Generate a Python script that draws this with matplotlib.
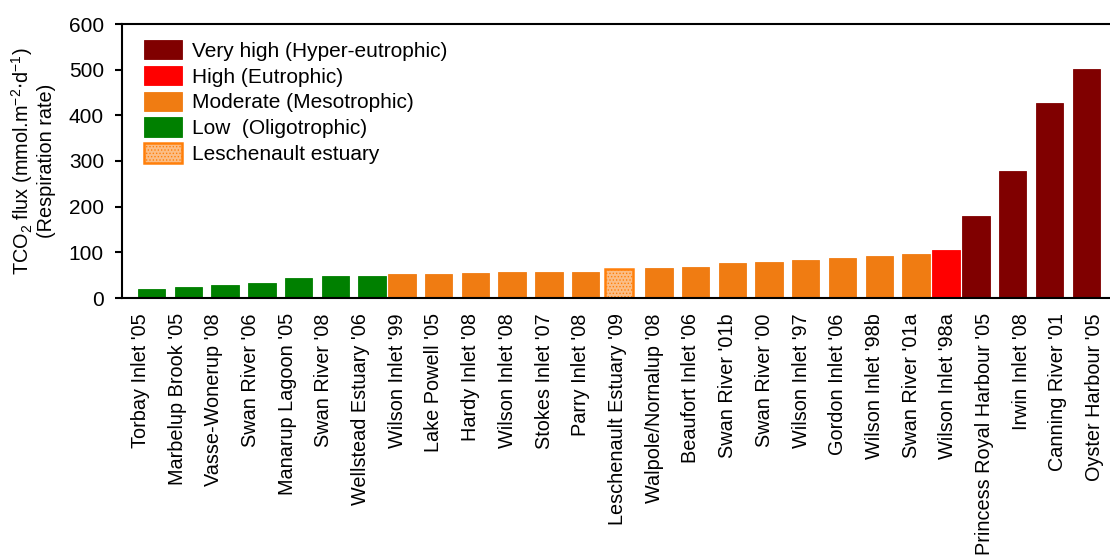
import numpy as np
import matplotlib.pyplot as plt

plt.rcParams['font.family'] = ['Liberation Sans', 'DejaVu Sans']

# Data
sites = ["Torbay Inlet '05", "Marbelup Brook '05", "Vasse-Wonerup '08", "Swan River '06",
         "Manarup Lagoon '05", "Swan River '08", "Wellstead Estuary '06", "Wilson Inlet '99",
         "Lake Powell '05", "Hardy Inlet '08", "Wilson Inlet '08", "Stokes Inlet '07",
         "Parry Inlet '08", "Leschenault Estuary '09", "Walpole/Nornalup '08", "Beaufort Inlet '06",
         "Swan River '01b", "Swan River '00", "Wilson Inlet '97", "Gordon Inlet '06",
         "Wilson Inlet '98b", "Swan River '01a", "Wilson Inlet '98a", "Princess Royal Harbour '05",
         "Irwin Inlet '08", "Canning River '01", "Oyster Harbour '05"]
flux = [20, 25, 29, 32, 44, 48, 49, 52, 53, 54, 56, 57, 58, 63, 66, 68, 76, 79, 83, 87,
        92, 97, 105, 179, 278, 428, 501]
status = ['low'] * 7 + ['mod'] * 6 + ['lesch'] + ['mod'] * 8 + ['high'] + ['vhigh'] * 4

# series style: colour, edge, hatch, bar offset within category, legend label
styles = {
    'vhigh': dict(fc='#800000', ec='#800000', hatch=None, off=-0.23, label='Very high (Hyper-eutrophic)'),
    'high': dict(fc='#ff0000', ec='#ff0000', hatch=None, off=-0.05, label='High (Eutrophic)'),
    'mod': dict(fc='#f07c12', ec='#f07c12', hatch=None, off=0.13, label='Moderate (Mesotrophic)'),
    'low': dict(fc='#008000', ec='#008000', hatch=None, off=0.31, label='Low  (Oligotrophic)'),
    'lesch': dict(fc='#fbbd85', ec='#ff7f0a', hatch='.....', off=0.04, label='Leschenault estuary'),
}
fs = 15

fig = plt.figure(figsize=(11.1, 5.56), dpi=100)
ax = fig.add_axes([122 / 1110, 1 - 298 / 556, 991 / 1110, 274 / 556])

x = np.arange(len(sites))
plt.rcParams['hatch.color'] = '#f5a15c'
plt.rcParams['hatch.linewidth'] = 0.6
handles = {}
for key in ['vhigh', 'high', 'mod', 'low', 'lesch']:
    st = styles[key]
    idx = [i for i, s in enumerate(status) if s == key]
    lw = 1.8 if key == 'lesch' else 0.6
    b = ax.bar(x[idx] + st['off'], [flux[i] for i in idx], width=0.745,
               color=st['fc'], edgecolor=st['ec'], linewidth=lw, hatch=st['hatch'],
               label=st['label'], zorder=2)
    handles[key] = b

ax.set_xlim(-0.5, len(sites) - 0.5)
ax.set_ylim(0, 600)
ax.set_yticks(np.arange(0, 601, 100))
ax.set_xticks(x)
ax.set_xticklabels(sites, rotation=90, ha='center', va='top')
ax.tick_params(axis='x', direction='in', length=5, width=1.5, labelsize=14.3, pad=11)
# tick marks only on every other category
for i, t in enumerate(ax.xaxis.get_major_ticks()):
    if i % 2:
        t.tick1line.set_visible(False)
ax.tick_params(axis='y', direction='out', length=5, width=1.5, labelsize=fs, pad=8)
for side in ['left', 'bottom', 'top']:
    ax.spines[side].set_linewidth(1.5)
ax.spines['right'].set_visible(False)

ax.set_ylabel('TCO$_\\mathregular{2}$ flux (mmol.m$^\\mathregular{-2}$$\\cdot$d$^\\mathregular{-1}$)\n'
              '(Respiration rate)', fontsize=14.3, labelpad=9, linespacing=1.15)

leg = ax.legend(handles=[handles[k] for k in ['vhigh', 'high', 'mod', 'low', 'lesch']],
                loc='upper left', bbox_to_anchor=(144 / 1110, 1 - 40 / 556),
                bbox_transform=fig.transFigure, frameon=False, fontsize=fs,
                handlelength=1.8, handleheight=1.06, labelspacing=0.24,
                handletextpad=0.5, borderpad=0, borderaxespad=0)

fig.savefig('out.png', dpi=100)
